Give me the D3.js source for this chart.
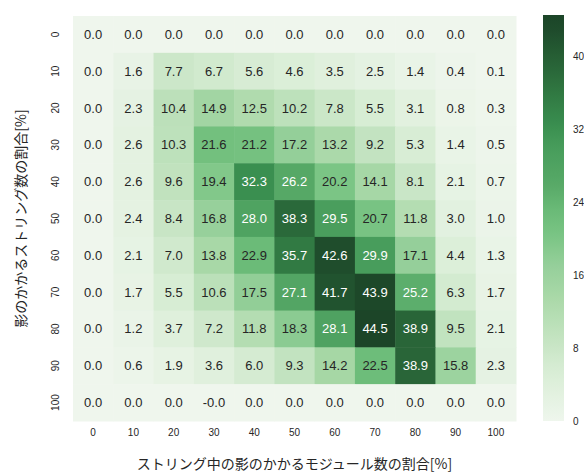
<!DOCTYPE html>
<html>
<head>
<meta charset="utf-8">
<script src="https://cdn.jsdelivr.net/npm/d3@7"></script>
<style>
  body { margin: 0; background: #fff; }
  text { font-family: "Liberation Sans", "Noto Sans CJK JP", sans-serif; fill: #262626; }
  .jp { font-family: "Noto Sans CJK JP", "Liberation Sans", sans-serif; }
</style>
</head>
<body>
<div id="chart"></div>
<script>
var rowLabels = [0, 10, 20, 30, 40, 50, 60, 70, 80, 90, 100]
var colLabels = [0, 10, 20, 30, 40, 50, 60, 70, 80, 90, 100]

var values = [
    [0.0, 0.0, 0.0, 0.0, 0.0, 0.0, 0.0, 0.0, 0.0, 0.0, 0.0],
    [0.0, 1.6, 7.7, 6.7, 5.6, 4.6, 3.5, 2.5, 1.4, 0.4, 0.1],
    [0.0, 2.3, 10.4, 14.9, 12.5, 10.2, 7.8, 5.5, 3.1, 0.8, 0.3],
    [0.0, 2.6, 10.3, 21.6, 21.2, 17.2, 13.2, 9.2, 5.3, 1.4, 0.5],
    [0.0, 2.6, 9.6, 19.4, 32.3, 26.2, 20.2, 14.1, 8.1, 2.1, 0.7],
    [0.0, 2.4, 8.4, 16.8, 28.0, 38.3, 29.5, 20.7, 11.8, 3.0, 1.0],
    [0.0, 2.1, 7.0, 13.8, 22.9, 35.7, 42.6, 29.9, 17.1, 4.4, 1.3],
    [0.0, 1.7, 5.5, 10.6, 17.5, 27.1, 41.7, 43.9, 25.2, 6.3, 1.7],
    [0.0, 1.2, 3.7, 7.2, 11.8, 18.3, 28.1, 44.5, 38.9, 9.5, 2.1],
    [0.0, 0.6, 1.9, 3.6, 6.0, 9.3, 14.2, 22.5, 38.9, 15.8, 2.3],
    [0.0, 0.0, 0.0, -0, 0.0, 0.0, 0.0, 0.0, 0.0, 0.0, 0.0]
]

var colorbarTicks = [0, 8, 16, 24, 32, 40]

var xTitle = "ストリング中の影のかかるモジュール数の割合[%]"
var yTitle = "影のかかるストリング数の割合[%]"

// colour ramp (fraction of max -> colour)
var rampPos = [0, 0.1, 0.157, 0.31, 0.384, 0.454, 0.515, 0.589, 0.672, 0.726, 0.802, 0.957, 1]
var rampCol = ["#eff6ed", "#dcefd9", "#d0e9cd", "#a8d8a7", "#95cf9a", "#7bc585", "#6bbb78",
               "#56a866", "#489d5c", "#3a8f50", "#317a43", "#1f4d2c", "#1c4528"]

var W = 584, H = 474
var hm = { left: 73, right: 516, top: 16, bottom: 421 }
var cb = { left: 543, right: 564, top: 15, bottom: 421 }

var vmax = d3.max(values, function(r){ return d3.max(r) })

var color = d3.scaleLinear()
    .domain(rampPos.map(function(p){ return p * vmax }))
    .range(rampCol)
    .interpolate(d3.interpolateRgb)
    .clamp(true)

var svg = d3.select("#chart")
    .append("svg")
        .attr("width", W)
        .attr("height", H)

var x = d3.scaleBand()
    .domain(colLabels)
    .range([hm.left, hm.right])

var y = d3.scaleBand()
    .domain(rowLabels)
    .range([hm.top, hm.bottom])

var cells = []
values.forEach(function(row, i){
    row.forEach(function(v, j){
        cells.push({ r: rowLabels[i], c: colLabels[j], v: v })
    })
})

function fmt(v){
    if (Object.is(v, -0)) return "-0.0"
    return v.toFixed(1)
}

svg.append("g").selectAll("rect")
    .data(cells)
    .enter().append("rect")
        .attr("x", function(d){ return x(d.c) })
        .attr("y", function(d){ return y(d.r) })
        .attr("width", x.bandwidth() + 0.5)
        .attr("height", y.bandwidth() + 0.5)
        .attr("fill", function(d){ return color(d.v) })

svg.append("g").selectAll("text")
    .data(cells)
    .enter().append("text")
        .attr("x", function(d){ return x(d.c) + x.bandwidth() / 2 })
        .attr("y", function(d){ return y(d.r) + y.bandwidth() / 2 })
        .attr("text-anchor", "middle")
        .attr("dominant-baseline", "central")
        .attr("font-size", "13px")
        .style("fill", function(d){ return d.v > 24 ? "#ffffff" : "#262626" })
        .text(function(d){ return fmt(d.v) })

// tick labels
var xAxis = d3.axisBottom(x).tickSize(0).tickPadding(8)
var xg = svg.append("g")
    .attr("transform", "translate(0," + hm.bottom + ")")
    .call(xAxis)
xg.select(".domain").remove()
xg.selectAll("text").attr("font-size", "10px").attr("font-family", null).style("fill", "#262626")

svg.append("g").selectAll("text")
    .data(rowLabels)
    .enter().append("text")
        .attr("transform", function(d){
            return "translate(55," + (y(d) + y.bandwidth() / 2) + ") rotate(-90)"
        })
        .attr("text-anchor", "middle")
        .attr("dominant-baseline", "central")
        .attr("font-size", "10px")
        .text(function(d){ return d })

// axis titles
svg.append("text")
    .attr("class", "jp")
    .attr("x", (hm.left + hm.right) / 2)
    .attr("y", 463)
    .attr("text-anchor", "middle")
    .attr("dominant-baseline", "central")
    .attr("font-size", "14px")
    .text(xTitle)

svg.append("text")
    .attr("class", "jp")
    .attr("transform", "translate(20," + (hm.top + hm.bottom) / 2 + ") rotate(-90)")
    .attr("text-anchor", "middle")
    .attr("dominant-baseline", "central")
    .attr("font-size", "14px")
    .text(yTitle)

// colorbar
var cbY = d3.scaleLinear()
    .domain([0, vmax])
    .range([cb.bottom, cb.top])

var grad = svg.append("defs").append("linearGradient")
    .attr("id", "cbgrad")
    .attr("x1", 0).attr("y1", 1)
    .attr("x2", 0).attr("y2", 0)

d3.range(0, 1.0001, 0.02).forEach(function(t){
    grad.append("stop")
        .attr("offset", t)
        .attr("stop-color", color(t * vmax))
})

svg.append("rect")
    .attr("x", cb.left)
    .attr("y", cb.top)
    .attr("width", cb.right - cb.left)
    .attr("height", cb.bottom - cb.top)
    .attr("fill", "url(#cbgrad)")

var cbAxis = d3.axisRight(cbY).tickValues(colorbarTicks).tickSize(0).tickPadding(9)
var cg = svg.append("g")
    .attr("transform", "translate(" + cb.right + ",0)")
    .call(cbAxis)
cg.select(".domain").remove()
cg.selectAll("text").attr("font-size", "10px").attr("font-family", null).style("fill", "#262626")
</script>
</body>
</html>
